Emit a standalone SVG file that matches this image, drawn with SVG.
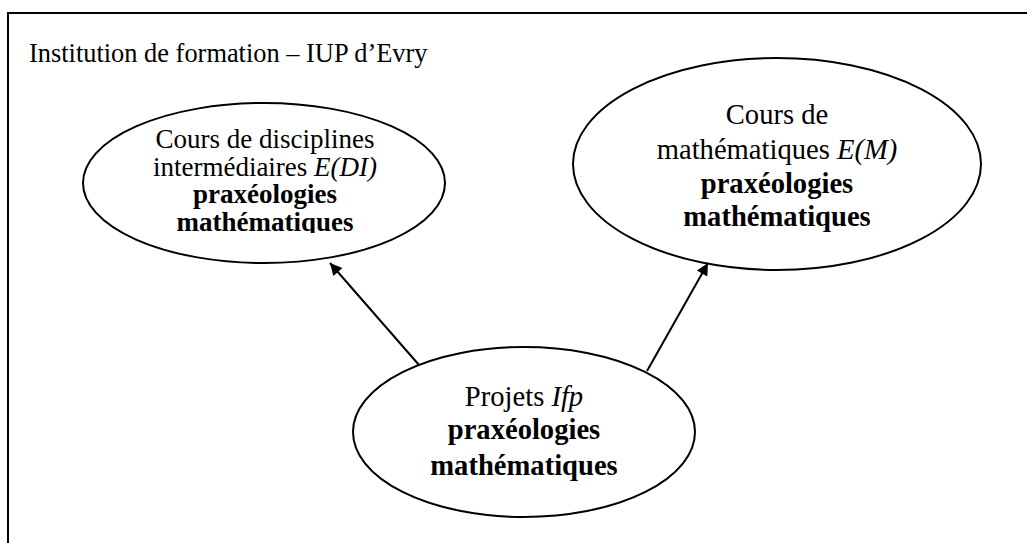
<svg xmlns="http://www.w3.org/2000/svg" width="1027" height="543" viewBox="0 0 1027 543">
<style>
.frame{fill:none;stroke:#000;stroke-width:2}
.node{fill:#fff;stroke:#000;stroke-width:2}
.conn{fill:none;stroke:#000;stroke-width:2}
text{font-family:"Liberation Serif","Times New Roman",serif;fill:#000}
.hdr{font-size:26.4px}
.t{font-size:28.6px;text-anchor:middle}
.tl{font-size:27px;text-anchor:middle}
.b{font-weight:bold}
.i{font-style:italic}
</style>
<defs>
<marker id="arr" viewBox="0 0 10 10" refX="10" refY="5" markerWidth="15" markerHeight="12" markerUnits="userSpaceOnUse" orient="auto">
<path d="M0,0 L10,5 L0,10 z" fill="#000"/>
</marker>
<clipPath id="clipL"><rect x="80" y="90" width="380" height="143"/></clipPath>
</defs>
<rect width="1027" height="543" fill="#fff"/>
<path class="frame" d="M8,543 V13 H1027"/>
<text class="hdr" x="29" y="62">Institution de formation – IUP d’Evry</text>
<g id="node-di">
<ellipse class="node" cx="264" cy="183" rx="181" ry="80"/>
<g clip-path="url(#clipL)">
<text class="tl" x="265" y="148">Cours de disciplines</text>
<text class="tl" x="265" y="176">intermédiaires <tspan class="i">E(DI)</tspan></text>
<text class="tl b" x="265" y="203">praxéologies</text>
<text class="tl b" x="265" y="231">mathématiques</text>
</g>
</g>
<g id="node-m">
<ellipse class="node" cx="777" cy="164" rx="204" ry="106"/>
<text class="t" x="777" y="124">Cours de</text>
<text class="t" x="777" y="159">mathématiques <tspan class="i">E(M)</tspan></text>
<text class="t b" x="777" y="193">praxéologies</text>
<text class="t b" x="777" y="226">mathématiques</text>
</g>
<g id="node-ifp">
<ellipse class="node" cx="524" cy="432" rx="171" ry="85"/>
<text class="t" x="524" y="406">Projets <tspan class="i">Ifp</tspan></text>
<text class="t b" x="524" y="439">praxéologies</text>
<text class="t b" x="524" y="475">mathématiques</text>
</g>
<g id="connectors">
<line class="conn" x1="419" y1="365" x2="330" y2="263" marker-end="url(#arr)"/>
<line class="conn" x1="647" y1="371" x2="708" y2="263" marker-end="url(#arr)"/>
</g>
</svg>
